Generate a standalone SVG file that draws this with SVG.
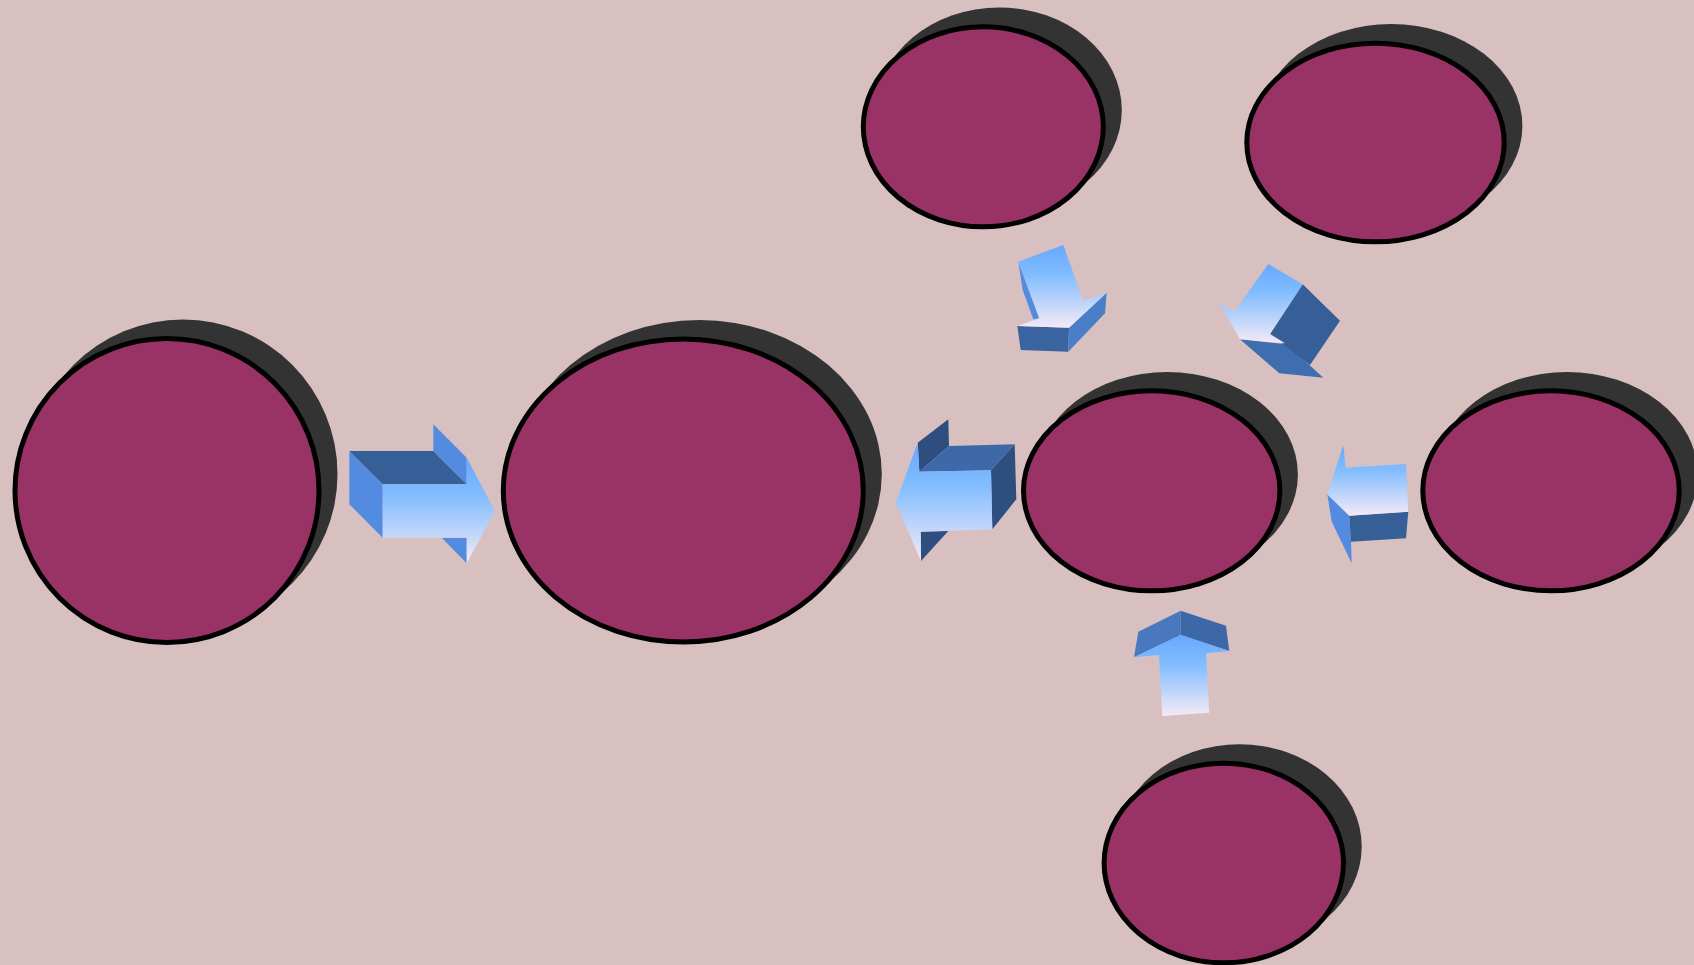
<svg xmlns="http://www.w3.org/2000/svg" width="1694" height="965" viewBox="0 0 1694 965">
  <defs>
    <linearGradient id="ag" x1="0" y1="0" x2="0" y2="1">
      <stop offset="0" stop-color="#66a8ff"/>
      <stop offset="0.35" stop-color="#80bcff"/>
      <stop offset="1" stop-color="#f4eaf6"/>
    </linearGradient>
    <style>
      .sh { fill: #333333; }
      .nd { fill: #993366; stroke: #000000; stroke-width: 5; }
      .fr { fill: url(#ag); }
      .s1 { fill: #538be0; }
      .s2 { fill: #365f98; }
      .s3 { fill: #2e4e80; }
      .s4 { fill: #3e69a8; }
      .s5 { fill: #4a7fc8; }
    </style>
  </defs>
  <rect width="1694" height="965" fill="#d9c0c0"/>

  <g id="node1">
    <ellipse class="sh" cx="183" cy="474" rx="154.5" ry="154.5"/>
    <ellipse class="nd" cx="167" cy="490.5" rx="152" ry="152"/>
  </g>
  <g id="node2">
    <ellipse class="sh" cx="699.3" cy="474" rx="182.5" ry="154"/>
    <ellipse class="nd" cx="683.3" cy="490.5" rx="180" ry="151.5"/>
  </g>
  <g id="node3">
    <ellipse class="sh" cx="999.3" cy="110" rx="122.5" ry="102.5"/>
    <ellipse class="nd" cx="983.3" cy="126.8" rx="120" ry="100"/>
  </g>
  <g id="node4">
    <ellipse class="sh" cx="1391.2" cy="125.8" rx="131.2" ry="101.8"/>
    <ellipse class="nd" cx="1375.5" cy="142.5" rx="128.7" ry="99.3"/>
  </g>
  <g id="node5">
    <ellipse class="sh" cx="1167.2" cy="474.5" rx="130.7" ry="102.5"/>
    <ellipse class="nd" cx="1151.7" cy="490.8" rx="128.2" ry="100"/>
  </g>
  <g id="node6">
    <ellipse class="sh" cx="1567" cy="474.5" rx="130.7" ry="102.5"/>
    <ellipse class="nd" cx="1551" cy="490.8" rx="128.2" ry="100"/>
  </g>
  <g id="node7">
    <ellipse class="sh" cx="1239.5" cy="846.5" rx="122.2" ry="102.3"/>
    <ellipse class="nd" cx="1223.8" cy="863" rx="119.7" ry="99.8"/>
  </g>

  <g id="connectors">
    <g id="arrow1">
      <polygon class="s1" points="349.3,451 382.7,484.3 382.7,537.7 349.3,504.3"/>
      <polygon class="s2" points="349.3,451 433.3,451 466.7,484.3 382.7,484.3"/>
      <polygon class="s1" points="433.3,424.3 466.7,457.7 466.7,484.3 433.3,451"/>
      <polygon class="s1" points="441.7,537.7 466.7,537.7 466.7,563.3"/>
      <polygon class="fr" points="382.7,484.3 466.7,484.3 466.7,457.7 495,511 466.7,563.3 466.7,537.7 382.7,537.7"/>
    </g>
    <g id="arrow2">
      <polygon class="s3" points="917.7,442.7 948.3,419.3 949,446 919.3,471.7"/>
      <polygon class="s4" points="919.3,471.7 949,446 1014.7,444.3 991,470.3"/>
      <polygon class="s3" points="991,470.3 1014.7,444.3 1016.3,499.3 992.3,529.3"/>
      <polygon class="s3" points="920.7,531.7 948.3,531 921,561"/>
      <polygon class="fr" points="895.7,502.7 917.7,442.7 919.3,471.7 991,470.3 992.3,529.3 920.7,531.7 921,561"/>
    </g>
    <g id="arrow3">
      <polygon class="s1" points="1018.3,261.7 1022.7,290 1033.3,319.3 1039.3,318.3"/>
      <polygon fill="#3a64a0" points="1017.3,326 1069,327.7 1068.3,351.7 1020.7,350"/>
      <polygon class="s5" points="1069,327.7 1106.7,292.7 1105,313.3 1068.3,351.7"/>
      <polygon class="fr" points="1018.3,261.7 1063.3,245 1083.3,301 1106.7,292.7 1069,327.7 1017.3,326 1039.3,318.3"/>
    </g>
    <g id="arrow4">
      <polygon fill="#3e6eb0" points="1240,339.3 1286.7,344.3 1323.3,377.7 1279.3,373.3"/>
      <polygon class="s2" points="1302.7,284.3 1340,320.7 1310,365 1270,334"/>
      <polygon class="fr" points="1268.3,264 1302.7,284.3 1270,334 1285,343.3 1240,339.3 1219.3,303.3 1234,311.7"/>
    </g>
    <g id="arrow5">
      <polygon class="s1" points="1327.3,494.3 1349.3,515.7 1351,541.7 1351.7,563.3 1331.7,521.7"/>
      <polygon class="s2" points="1349.3,515.7 1408.3,511.7 1406,538.3 1351,541.7"/>
      <polygon class="fr" points="1327.3,494.3 1343.3,445 1345.7,467.7 1406,464 1408.3,511.7 1349.3,515.7"/>
    </g>
    <g id="arrow6">
      <polygon fill="#4a78be" points="1138.3,631.7 1180.7,610.7 1180.7,635 1134,657.3"/>
      <polygon fill="#3d68a8" points="1180.7,610.7 1226,625.7 1229.3,651 1180.7,635"/>
      <polygon class="fr" points="1134,657.3 1180.7,635 1229.3,651 1206,653.3 1209.3,712.7 1162.3,716 1159,655"/>
    </g>
  </g>
</svg>
